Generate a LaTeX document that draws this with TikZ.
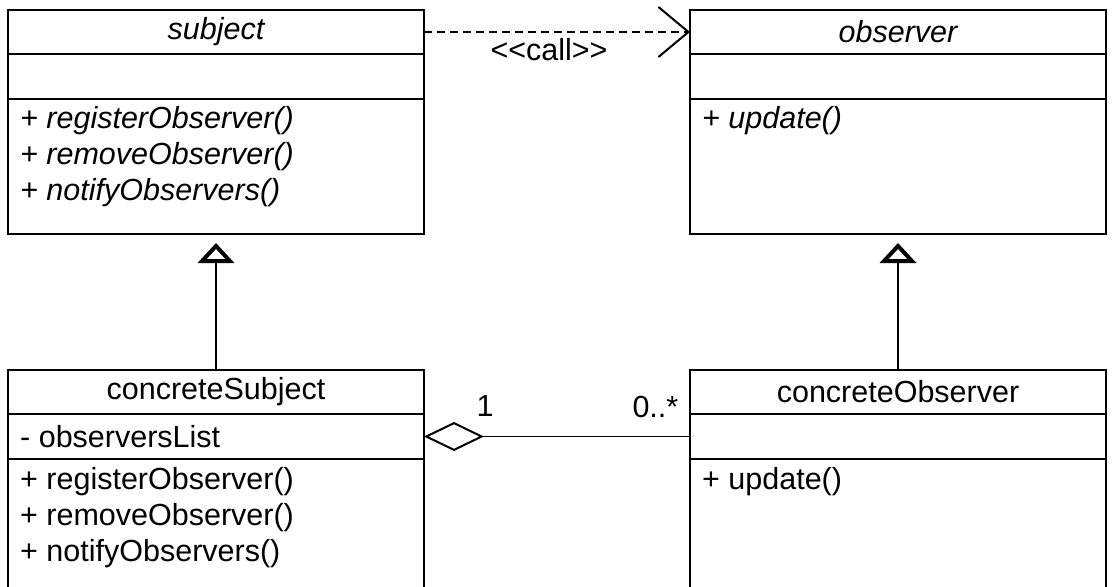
\documentclass[tikz,border=0pt]{standalone}
\usepackage{fontspec}
\setmainfont{Liberation Sans}
\usetikzlibrary{arrows.meta, positioning}
\newcommand{\umlfont}{\fontsize{30.5}{36}\selectfont}
\tikzset{
    umlbox/.style={rectangle, draw=black, line width=1.8pt, minimum width=416pt, minimum height=#1, inner sep=0pt, outer sep=0pt, font=\umlfont},
    umlbox/.default=44pt,
    umltext/.style={inner sep=0pt, align=left, font=\umlfont},
    umldep/.style={-{Straight Barb[length=30pt, width=50pt, line width=2pt]}, dash pattern=on 8pt off 5pt, line width=1.8pt},
    umlinherit/.style={-{Triangle[open, length=20pt, width=36pt, line width=4pt]}, line width=1.8pt, shorten >=9pt},
    umlaggr/.style={{Diamond[open, length=60pt, width=29pt, line width=2pt]}-, line width=1.8pt},
    umllabel/.style={font=\umlfont, inner sep=0pt}
}

\begin{document}
\begin{tikzpicture}[x=1pt, y=-1pt]
\useasboundingbox (0,0) rectangle (1113,586);

% abstract classes
\node[umlbox, anchor=north west] (subjHead) at (8,10) {\itshape subject};
\node[umlbox=45pt, below=0pt of subjHead] (subjAttr) {};
\node[umlbox=135pt, below=0pt of subjAttr] (subjOps) {};
\node[umltext, font=\umlfont\itshape, below right=7pt and 12pt of subjOps.north west] (subjOpsTxt) {+ registerObserver()\\+ removeObserver()\\+ notifyObservers()};

\node[umlbox, anchor=north west] (obsHead) at (690,10) {\itshape observer};
\node[umlbox=45pt, below=0pt of obsHead] (obsAttr) {};
\node[umlbox=135pt, below=0pt of obsAttr] (obsOps) {};
\node[umltext, font=\umlfont\itshape, below right=7pt and 12pt of obsOps.north west] (obsOpsTxt) {+ update()};

% concrete classes
\node[umlbox, anchor=north west] (csHead) at (8,370) {concreteSubject};
\node[umlbox=45pt, below=0pt of csHead] (csAttr) {};
\node[umltext, right=12pt of csAttr.west] (csAttrTxt) {- observersList};
\node[umlbox=131pt, below=0pt of csAttr] (csOps) {};
\node[umltext, below right=8pt and 12pt of csOps.north west] (csOpsTxt) {+ registerObserver()\\+ removeObserver()\\+ notifyObservers()};

\node[umlbox, anchor=north west] (coHead) at (690,370) {concreteObserver};
\node[umlbox=45pt, below=0pt of coHead] (coAttr) {};
\node[umlbox=131pt, below=0pt of coAttr] (coOps) {};
\node[umltext, below right=8pt and 12pt of coOps.north west] (coOpsTxt) {+ update()};

% relations
\draw[umldep] (subjHead) -- node[umllabel, pos=0.47, yshift=-18pt] {<\kern0pt<call>\kern0pt>} (obsHead);
\draw[umlinherit] (csHead) -- (subjOps);
\draw[umlinherit] (coHead) -- (obsOps);
\draw[umlaggr] (csAttr) -- node[umllabel, pos=0.23, yshift=30pt] {1} node[umllabel, pos=0.87, yshift=30pt] {0..*} (coAttr);

\end{tikzpicture}
\end{document}
